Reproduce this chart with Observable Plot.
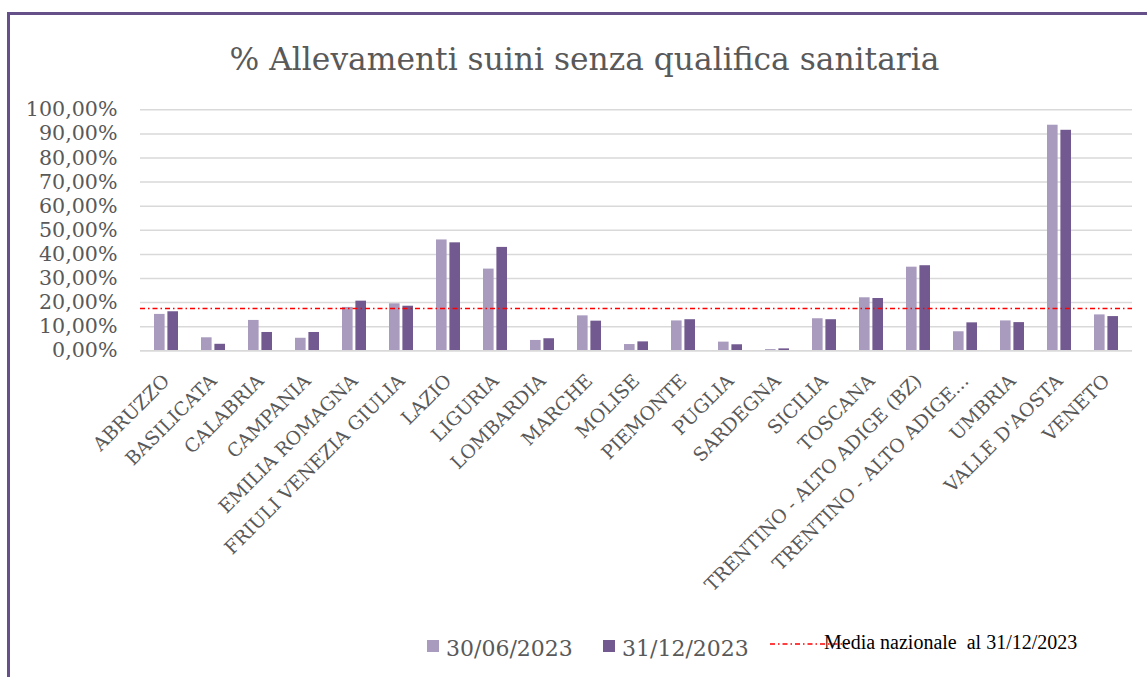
<!DOCTYPE html>
<html>
<head>
<meta charset="utf-8">
<script src="https://cdn.jsdelivr.net/npm/d3@7"></script>
<script src="https://cdn.jsdelivr.net/npm/@observablehq/plot@0.6"></script>
<style>
  html, body { margin: 0; padding: 0; background: #fff; }
  #wrap { position: relative; width: 1147px; height: 677px; overflow: hidden; }
  #border { position: absolute; left: 7px; top: 12px; width: 1200px; height: 800px;
            border-left: 3px solid #65508a; border-top: 3px solid #65508a; box-sizing: border-box; }
  #chart { position: absolute; left: 0; top: 0; }
  .t { position: absolute; line-height: 1; white-space: pre; }
  #title { left: 0; width: 1169px; text-align: center; top: 41px; font: 31.3px "DejaVu Serif"; color: #595959; }
  .sw { position: absolute; width: 12px; height: 12px; }
  .lg { font: 22px "DejaVu Serif"; color: #595959; top: 636px; }
  #media { font: 20px "Liberation Serif"; color: #000; top: 631px; left: 824px; }
  #mline { position: absolute; left: 770px; top: 640px; }
</style>
</head>
<body>
<div id="wrap">
  <div id="border"></div>
  <div id="chart"></div>
  <div id="title" class="t"></div>
  <div class="sw" id="sw1" style="left:427px; top:640px;"></div>
  <div class="t lg" id="lg1" style="left:446px;"></div>
  <div class="sw" id="sw2" style="left:603px; top:640px;"></div>
  <div class="t lg" id="lg2" style="left:622px;"></div>
  <svg id="mline" width="80" height="8"><line x1="0" y1="4" x2="78" y2="4" stroke="#ff0000" stroke-width="1.5" stroke-dasharray="5,3,1.5,3"/></svg>
  <div class="t" id="media"></div>
</div>
<script>
const titleText = "% Allevamenti suini senza qualifica sanitaria";
const regions = ["ABRUZZO", "BASILICATA", "CALABRIA", "CAMPANIA", "EMILIA ROMAGNA", "FRIULI VENEZIA GIULIA",
  "LAZIO", "LIGURIA", "LOMBARDIA", "MARCHE", "MOLISE", "PIEMONTE", "PUGLIA", "SARDEGNA", "SICILIA", "TOSCANA",
  "TRENTINO - ALTO ADIGE (BZ)", "TRENTINO - ALTO ADIGE...", "UMBRIA", "VALLE D'AOSTA", "VENETO"];
const seriesNames = ["30/06/2023", "31/12/2023"];
const values30062023 = [15.1, 5.4, 12.6, 5.2, 18.0, 19.5, 46.0, 33.9, 4.3, 14.5, 2.6, 12.4, 3.6, 0.5, 13.3, 22.0, 34.7, 7.9, 12.4, 93.6, 14.9];
const values31122023 = [16.2, 2.7, 7.6, 7.6, 20.6, 18.5, 44.8, 42.9, 5.0, 12.3, 3.7, 12.9, 2.5, 0.8, 12.9, 21.7, 35.3, 11.6, 11.7, 91.5, 14.2];
const mediaNazionale = 17.6;
const mediaLabel = "Media nazionale  al 31/12/2023";
const yTicks = [0, 10, 20, 30, 40, 50, 60, 70, 80, 90, 100];

const colors = ["#a99bbe", "#725a90"];
const data = regions.map((r, i) => ({region: r, v1: values30062023[i], v2: values31122023[i]}));
const fmt = d => d.toFixed(2).replace(".", ",") + "%";

const chart = Plot.plot({
  width: 1147,
  height: 677,
  marginTop: 109.3,
  marginBottom: 326.7,
  marginLeft: 140,
  marginRight: 15,
  style: {background: "transparent", fontFamily: "DejaVu Serif", overflow: "visible"},
  x: {domain: regions, paddingInner: 0.49, paddingOuter: 0.245, label: null},
  y: {domain: [0, 100], label: null},
  marks: [
    Plot.gridY(yTicks, {stroke: "#d9d9d9", strokeOpacity: 1, strokeWidth: 1.5}),
    Plot.axisY(yTicks, {tickSize: 0, tickPadding: 23, fontSize: 20.6, fill: "#595959", tickFormat: fmt, label: null}),
    Plot.axisX({tickSize: 0, tickRotate: -45, tickPadding: 27, fontSize: 18.8, fill: "#595959", label: null}),
    Plot.barY(data, {x: "region", y: "v1", fill: colors[0], insetRight: 13.4}),
    Plot.barY(data, {x: "region", y: "v2", fill: colors[1], insetLeft: 13.4}),
    Plot.ruleY([0], {stroke: "#d9d9d9", strokeWidth: 1.5}),
    Plot.ruleY([mediaNazionale], {stroke: "#ff0000", strokeWidth: 1.5, strokeDasharray: "5,3,1.5,3"})
  ]
});
document.getElementById("chart").appendChild(chart);
document.getElementById("title").textContent = titleText;
document.getElementById("sw1").style.background = colors[0];
document.getElementById("sw2").style.background = colors[1];
document.getElementById("lg1").textContent = seriesNames[0];
document.getElementById("lg2").textContent = seriesNames[1];
document.getElementById("media").textContent = mediaLabel;
</script>
</body>
</html>
